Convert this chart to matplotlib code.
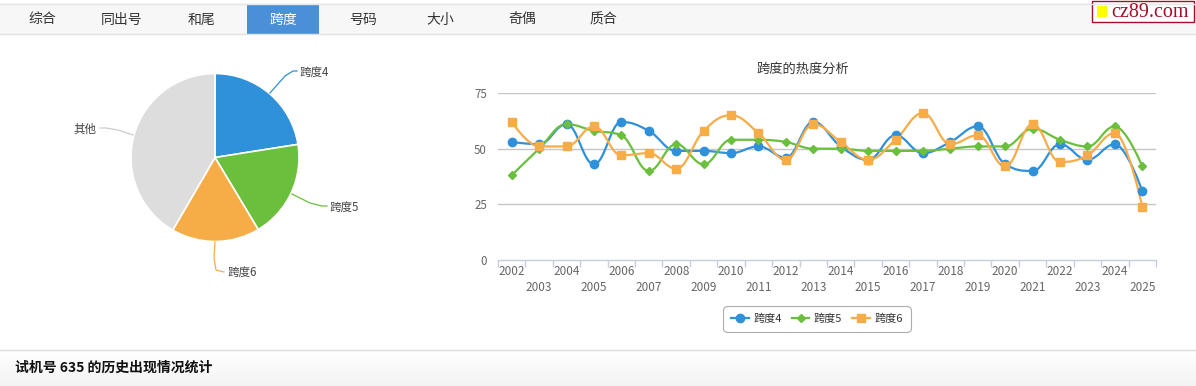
import matplotlib
matplotlib.use("Agg")
import matplotlib.pyplot as plt
from matplotlib.path import Path
from matplotlib.patches import PathPatch, Rectangle
from matplotlib.lines import Line2D
import numpy as np

plt.rcParams['font.family'] = ['Noto Sans CJK SC', 'DejaVu Sans']

# ---------------- data ----------------
tabs = ["综合", "同出号", "和尾", "跨度", "号码", "大小", "奇偶", "质合"]
active_tab = "跨度"

pie_labels = ["跨度4", "跨度5", "跨度6", "其他"]
pie_values = [22.5, 18.9, 17.0, 41.6]

years = [str(y) for y in range(2002, 2026)]
span4 = [53, 52, 61, 43, 62, 58, 49, 49, 48, 51, 46, 62, 51, 45, 56, 48, 53, 60, 43, 40, 52, 45, 52, 31]
span5 = [38, 50, 61, 58, 56, 40, 52, 43, 54, 54, 53, 50, 50, 49, 49, 49, 50, 51, 51, 59, 54, 51, 60, 42]
span6 = [62, 51, 51, 60, 47, 48, 41, 58, 65, 57, 45, 61, 53, 45, 54, 66, 52, 56, 42, 61, 44, 47, 57, 24]
yticks = [0, 25, 50, 75]

chart_title = "跨度的热度分析"
footer_text = "试机号 635 的历史出现情况统计"

# ---------------- styles ----------------
W, H = 1196, 386
C_BLUE = "#2f91da"
C_GREEN = "#6abf3c"
C_ORANGE = "#f6ad47"
C_GRAY = "#dddddd"
TXT = "#333333"
AX_TXT = "#666666"

fig = plt.figure(figsize=(W / 100, H / 100), dpi=100)
fig.patch.set_facecolor("white")


def fx(px):
    return px / W


def fy(py):
    return 1 - py / H


# ---------------- tab bar ----------------
bg = fig.add_axes([0, 0, 1, 1], zorder=-10)
bg.add_patch(Rectangle((0, 3), W, 31, facecolor="#f7f7f7", edgecolor="none"))
bg.plot([0, W], [3.5, 3.5], color="#e6e6e6", lw=1)
bg.plot([0, W], [33.5, 33.5], color="#e2e2e2", lw=1)
tab_x = [42, 122, 202, 283, 363, 440, 522, 603]
for t, x in zip(tabs, tab_x):
    if t == active_tab:
        bg.add_patch(Rectangle((247, 4), 72, 30, facecolor="#4a90d9", edgecolor="none"))
        bg.text(x, 19.5, t, color="white", fontsize=10, ha="center", va="center")
    else:
        bg.text(x, 19.5, t, color=TXT, fontsize=10, ha="center", va="center")

# logo
bg.add_patch(Rectangle((1092, 0.5), 101.5, 21, facecolor="white", edgecolor="#a0102a", lw=1))
bg.add_patch(Rectangle((1097, 6), 10, 11, facecolor="#ffff00", edgecolor="none"))
bg.text(1111, 17, "cz89.com", color="#a0102a", fontsize=14.5, ha="left", va="baseline",
        family=["Liberation Serif", "DejaVu Serif"])

# footer
bg.plot([0, W], [349.5, 349.5], color="#dcdcdc", lw=1)
grad = np.linspace(1, 0, 50).reshape(-1, 1)
bg.imshow(grad, extent=[0, W, 386, 350], cmap=matplotlib.colors.LinearSegmentedColormap.from_list(
    "g", ["#f3f3f3", "#ffffff"]), aspect="auto", zorder=-5)
bg.set_xlim(0, W)
bg.set_ylim(H, 0)
bg.axis("off")
bg.text(15, 368, footer_text, color="#111111", fontsize=10, fontweight="bold", ha="left", va="center")

# ---------------- pie ----------------
cx, cy, r = 215, 157.5, 84
pax = fig.add_axes([fx(cx - r), fy(cy + r), 2 * r / W, 2 * r / H])
pie_colors = [C_BLUE, C_GREEN, C_ORANGE, C_GRAY]
pax.pie(pie_values, colors=pie_colors, startangle=90, counterclock=False, radius=1,
        wedgeprops=dict(edgecolor="white", linewidth=1.2))
pax.set_xlim(-1, 1)
pax.set_ylim(-1, 1)
pax.axis("off")


def pd(px, py):
    return ((px - cx) / r, (cy - py) / r)


label_geo = [
    ([(270, 93), (285, 76), (293, 71), (297, 71)], (300, 72), "left"),
    ([(292, 194), (310, 203), (322, 206), (327, 206)], (330, 207), "left"),
    ([(215, 242), (214, 258), (216, 270), (224, 272)], (228, 272), "left"),
    ([(133, 135), (118, 130), (106, 128), (100, 128)], (96, 129), "right"),
]
for (pts, tp, ha), lab, col in zip(label_geo, pie_labels, pie_colors):
    xs, ys = zip(*[pd(*p) for p in pts])
    lc = col if col != C_GRAY else "#cccccc"
    pax.add_line(Line2D(xs, ys, color=lc, lw=0.9, clip_on=False))
    tx, ty = pd(*tp)
    pax.text(tx, ty, lab, color="#444444", fontsize=8.3, ha=ha, va="center", clip_on=False)

# ---------------- line chart ----------------
x0, x1, ytop, ybot = 498, 1156, 93, 260
ax = fig.add_axes([fx(x0), fy(ybot), (x1 - x0) / W, (ybot - ytop) / H])
ax.set_xlim(-0.5, len(years) - 0.5)
ax.set_ylim(0, 75)
for s in ["top", "right", "left"]:
    ax.spines[s].set_visible(False)
ax.spines["bottom"].set_color("#c8cfdc")
ax.spines["bottom"].set_linewidth(1)
for v in yticks[1:]:
    ax.axhline(v, color="#c6c6c6", lw=1, zorder=0)
ax.set_yticks(yticks)
ax.set_yticklabels([str(v) for v in yticks], color=AX_TXT, fontsize=8.3)
ax.tick_params(axis="y", length=0, pad=8)
ax.set_xticks(np.arange(-0.5, len(years), 1.0))
ax.set_xticklabels([])
ax.tick_params(axis="x", length=5, color="#c8cfdc", width=1)
for i, yr in enumerate(years):
    yy = -11.5 / (ybot - ytop) if i % 2 == 0 else -27.5 / (ybot - ytop)
    ax.text(i, yy, yr, transform=ax.get_xaxis_transform(), ha="center", va="center",
            color=AX_TXT, fontsize=8.5)


def spline_path(xs, ys, smoothing=1.5):
    n = len(xs)
    denom = smoothing + 1
    lc = [(xs[i], ys[i]) for i in range(n)]
    rc = [(xs[i], ys[i]) for i in range(n)]
    for i in range(1, n - 1):
        lx, ly = xs[i - 1], ys[i - 1]
        nx, ny = xs[i + 1], ys[i + 1]
        px, py = xs[i], ys[i]
        lcx = (smoothing * px + lx) / denom
        lcy = (smoothing * py + ly) / denom
        rcx = (smoothing * px + nx) / denom
        rcy = (smoothing * py + ny) / denom
        corr = ((rcy - lcy) * (rcx - px)) / (rcx - lcx) + py - rcy
        lcy += corr
        rcy += corr
        if lcy > ly and lcy > py:
            lcy = max(ly, py)
            rcy = 2 * py - lcy
        elif lcy < ly and lcy < py:
            lcy = min(ly, py)
            rcy = 2 * py - lcy
        if rcy > ny and rcy > py:
            rcy = max(ny, py)
            lcy = 2 * py - rcy
        elif rcy < ny and rcy < py:
            rcy = min(ny, py)
            lcy = 2 * py - rcy
        lc[i] = (lcx, lcy)
        rc[i] = (rcx, rcy)
    verts = [(xs[0], ys[0])]
    codes = [Path.MOVETO]
    for i in range(1, n):
        verts += [rc[i - 1], lc[i], (xs[i], ys[i])]
        codes += [Path.CURVE4] * 3
    return Path(verts, codes)


xi = np.arange(len(years))
series = [(span4, C_BLUE, "o", 6.0, pie_labels[0]),
          (span5, C_GREEN, "D", 4.2, pie_labels[1]),
          (span6, C_ORANGE, "s", 6.0, pie_labels[2])]
handles = []
for vals, col, mk, ms, lab in series:
    ax.add_patch(PathPatch(spline_path(list(xi.astype(float)), list(map(float, vals))),
                           fill=False, edgecolor=col, lw=1.6, zorder=3, clip_on=False))
    ax.plot(xi, vals, linestyle="none", marker=mk, markersize=ms, color=col, zorder=4, clip_on=False)
    handles.append(Line2D([], [], color=col, lw=1.6, marker=mk, markersize=ms))

fig.text(fx(803), fy(69), chart_title, color="#333333", fontsize=9.5, ha="center", va="center")

leg = fig.legend(handles, pie_labels[:3], loc="center", bbox_to_anchor=(fx(817), fy(319)),
                 ncol=3, frameon=True, fontsize=8, handlelength=1.6, handletextpad=0.4,
                 columnspacing=0.9, borderpad=0.5, labelcolor="#333333")
leg.get_frame().set_edgecolor("#999999")
leg.get_frame().set_linewidth(0.8)
leg.get_frame().set_boxstyle("round,pad=0.2,rounding_size=0.4")

fig.savefig("out.png", dpi=100)
